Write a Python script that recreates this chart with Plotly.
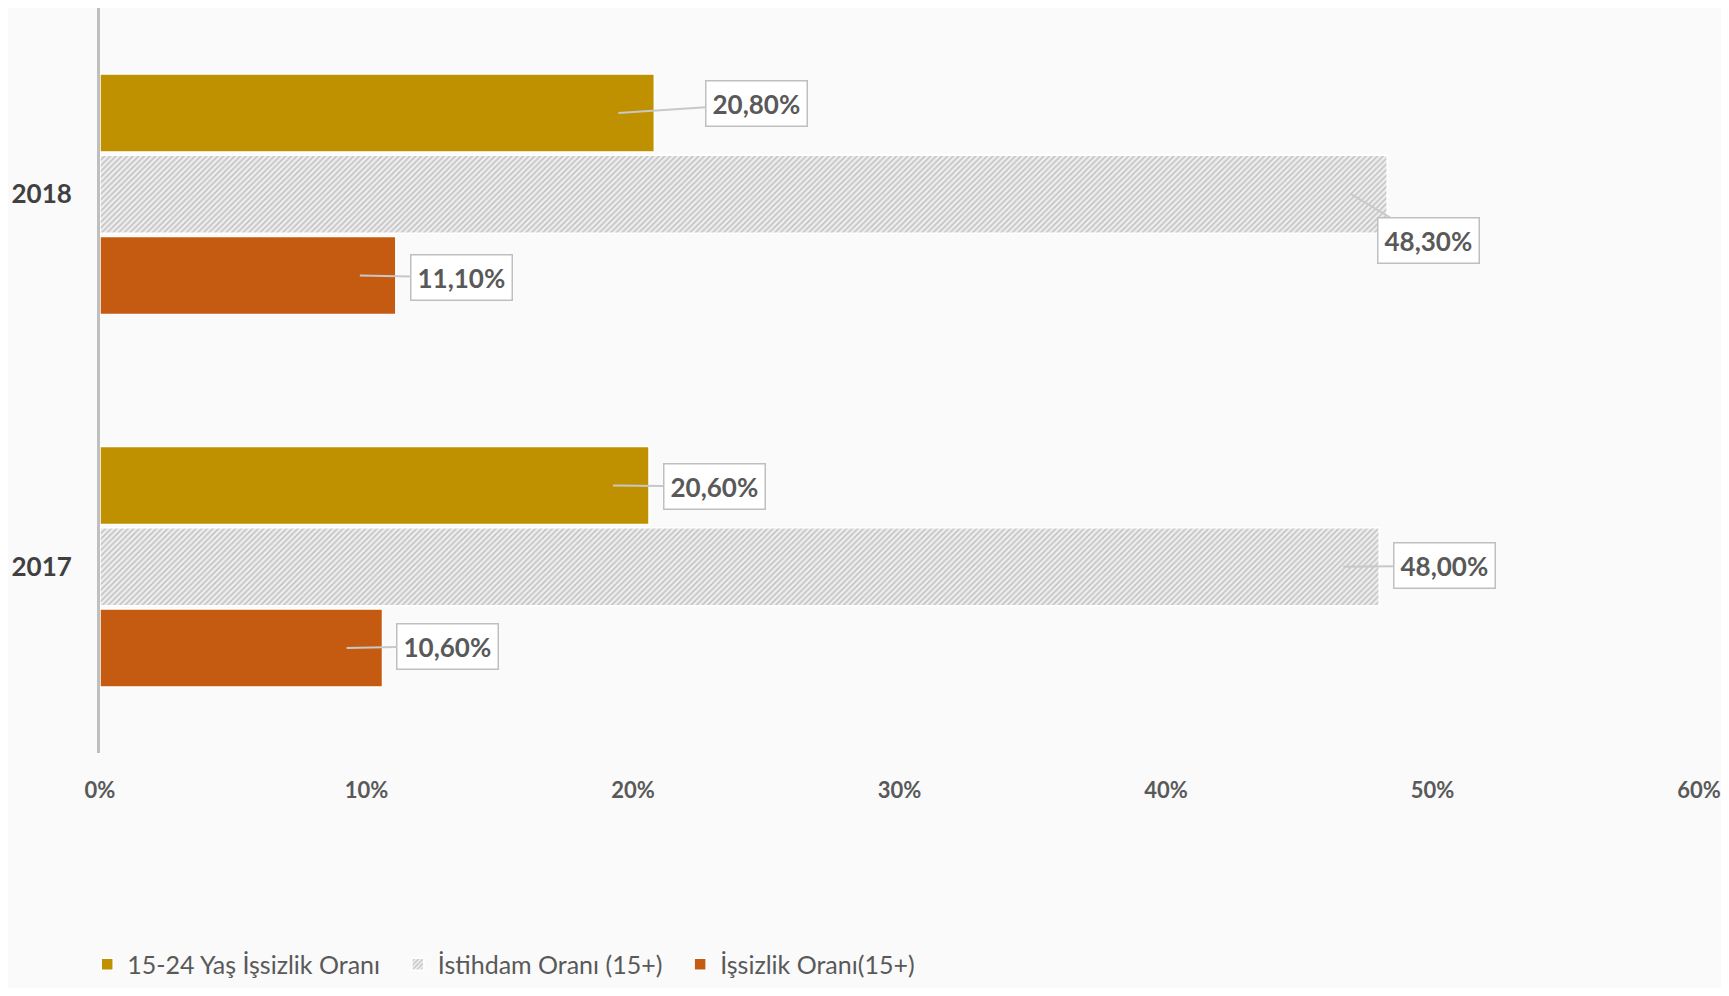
import plotly.graph_objects as go

years = ["2017", "2018"]
series_names = ["İşsizlik Oranı(15+)", "İstihdam Oranı (15+)", "15-24 Yaş İşsizlik Oranı"]
issizlik = [10.6, 11.1]
istihdam = [48.0, 48.3]
genc_issizlik = [20.6, 20.8]
x_ticks = [0, 10, 20, 30, 40, 50, 60]

TXT = "#595959"
FONT = "Lato"
BARGAP = 0.345
GROUPGAP = 0.04
PAD = "\u00a0\u00a0"

fig = go.Figure()
fig.add_trace(go.Bar(
    y=years, x=issizlik, name=series_names[0], orientation="h",
    marker=dict(color="#C55A11", line=dict(color="#FFFFFF", width=1.5)),
))
fig.add_trace(go.Bar(
    y=years, x=istihdam, name=series_names[1] + PAD, orientation="h",
    marker=dict(color="#D9D9D9", line=dict(color="#FFFFFF", width=1.5),
                pattern=dict(shape="/", fgcolor="#BDBDBD", bgcolor="#EDEDED",
                             size=4, solidity=0.35, fillmode="replace")),
))
fig.add_trace(go.Bar(
    y=years, x=genc_issizlik, name=series_names[2] + PAD, orientation="h",
    marker=dict(color="#BF9000", line=dict(color="#FFFFFF", width=1.5)),
))

slot = (1 - BARGAP) / 3
offsets = [-slot, 0, slot]
series_vals = [issizlik, istihdam, genc_issizlik]
# label box offsets (pixels) relative to arrow tip, per series per year
label_offsets = {
    (0, 0): (101, -2), (0, 1): (102, 2),
    (1, 0): (101, -1), (1, 1): (77, 46),
    (2, 0): (101, 1), (2, 1): (138, -9),
}
for si, vals in enumerate(series_vals):
    for yi, v in enumerate(vals):
        ax, ay = label_offsets[(si, yi)]
        fig.add_annotation(
            x=v - 1.35, y=yi + offsets[si], xref="x", yref="y",
            text=f"<b>{v:.2f}".replace(".", ",") + "%</b>",
            showarrow=True, arrowhead=0, arrowwidth=2, arrowcolor="#C8C8C8",
            ax=ax, ay=ay, standoff=0,
            bgcolor="#FFFFFF", bordercolor="#BFBFBF", borderwidth=1.5, borderpad=6,
            font=dict(family=FONT, size=26, color=TXT),
        )

fig.update_layout(
    width=1713, height=980,
    margin=dict(l=92, r=22, t=0, b=235, autoexpand=False),
    paper_bgcolor="#FAFAFA", plot_bgcolor="#FAFAFA",
    barmode="group", bargap=BARGAP, bargroupgap=GROUPGAP,
    font=dict(family=FONT, color=TXT),
    showlegend=True,
    legend=dict(orientation="h", traceorder="reversed", x=-0.008, xanchor="left",
                yref="container", y=0.024, yanchor="middle",
                font=dict(family=FONT, size=25, color=TXT),
                itemwidth=30, bgcolor="rgba(0,0,0,0)"),
    xaxis=dict(range=[0, 60], tickvals=x_ticks, ticktext=[f"<b>{t}%</b>" for t in x_ticks],
               showgrid=False, zeroline=False, showline=False,
               tickfont=dict(family=FONT, size=22, color=TXT), ticklabelstandoff=22),
    yaxis=dict(type="category", categoryorder="array", categoryarray=years,
               ticktext=[f"<b>{y}</b>" for y in years], tickvals=years,
               showgrid=False, zeroline=False, showline=True, linecolor="#BFBFBF", linewidth=3,
               tickfont=dict(family=FONT, size=26, color="#404040"), ticklabelstandoff=20),
)

fig.write_html("out.html")
